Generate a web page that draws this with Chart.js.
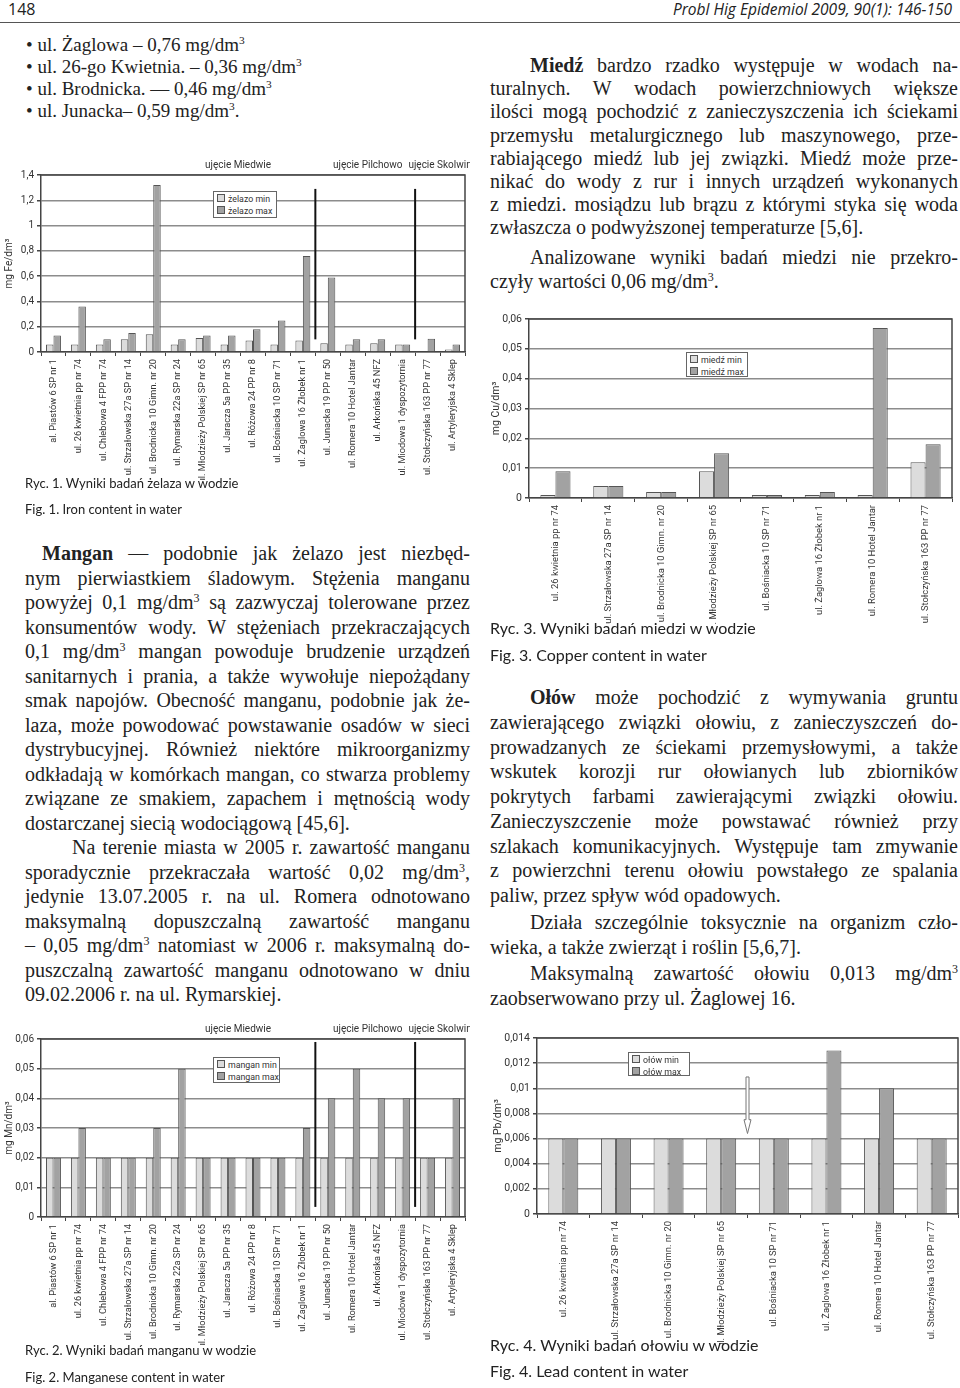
<!DOCTYPE html>
<html>
<head>
<meta charset="utf-8">
<script src="https://cdn.jsdelivr.net/npm/chart.js"></script>
<style>
body { margin: 0; width: 960px; height: 1388px; position: relative; background: #fff; overflow: hidden; color: #222; }
.abs { position: absolute; }
.txt { position: absolute; font-family: 'Liberation Serif', serif; font-size: 20px; }
.txt div { text-align: justify; text-align-last: justify; }
.txt div.l { text-align: left; text-align-last: left; }
sup { font-size: 60%; line-height: 0; vertical-align: 0.6em; }
.cap { position: absolute; font-family: Lato, 'Open Sans', sans-serif; color: #222; white-space: nowrap; }
.legenda { position: absolute; background: #fff; border: 1px solid #666; font-family: Roboto, sans-serif; font-size: 8.8px; line-height: 12px; padding: 1px 3px; color: #333; box-sizing: border-box; white-space: nowrap; }
.legenda span.sw { display: inline-block; width: 6px; height: 6px; border: 1px solid #555; margin-right: 3px; vertical-align: 0px; }
canvas { position: absolute; }
</style>
</head>
<body>

<div class="abs" style="left:8px;top:-2px;font-family:'Open Sans',sans-serif;font-size:16px;">148</div>
<div class="abs" style="right:8px;top:-2px;font-family:'Open Sans',sans-serif;font-size:15.5px;font-style:italic;">Probl Hig Epidemiol 2009, 90(1): 146-150</div>
<div class="abs" style="left:0;top:22px;width:960px;height:1px;background:#555;"></div>

<div class="txt" style="left:26px;top:34px;line-height:22px;font-size:19px;">
<div class="l">• ul. Żaglowa – 0,76 mg/dm<sup>3</sup></div>
<div class="l">• ul. 26-go Kwietnia. – 0,36 mg/dm<sup>3</sup></div>
<div class="l">• ul. Brodnicka. — 0,46 mg/dm<sup>3</sup></div>
<div class="l">• ul. Junacka– 0,59 mg/dm<sup>3</sup>.</div>
</div>

<div class="txt" style="left:25px;top:541px;width:445px;line-height:24.5px;">
<div style="padding-left:17px"><b>Mangan</b> — podobnie jak żelazo jest niezbęd-</div>
<div>nym pierwiastkiem śladowym. Stężenia manganu</div>
<div>powyżej 0,1 mg/dm<sup>3</sup> są zazwyczaj tolerowane przez</div>
<div>konsumentów wody. W stężeniach przekraczających</div>
<div>0,1 mg/dm<sup>3</sup> mangan powoduje brudzenie urządzeń</div>
<div>sanitarnych i prania, a także wywołuje niepożądany</div>
<div>smak napojów. Obecność manganu, podobnie jak że-</div>
<div>laza, może powodować powstawanie osadów w sieci</div>
<div>dystrybucyjnej. Również niektóre mikroorganizmy</div>
<div>odkładają w komórkach mangan, co stwarza problemy</div>
<div>związane ze smakiem, zapachem i mętnością wody</div>
<div class="l">dostarczanej siecią wodociągową [45,6].</div>
<div style="padding-left:47px">Na terenie miasta w 2005 r. zawartość manganu</div>
<div>sporadycznie przekraczała wartość 0,02 mg/dm<sup>3</sup>,</div>
<div>jedynie 13.07.2005 r. na ul. Romera odnotowano</div>
<div>maksymalną dopuszczalną zawartość manganu</div>
<div>– 0,05 mg/dm<sup>3</sup> natomiast w 2006 r. maksymalną do-</div>
<div>puszczalną zawartość manganu odnotowano w dniu</div>
<div class="l">09.02.2006 r. na ul. Rymarskiej.</div>
</div>

<div class="txt" style="left:490px;top:54px;width:468px;line-height:23.2px;">
<div style="padding-left:40px"><b>Miedź</b> bardzo rzadko występuje w wodach na-</div>
<div>turalnych. W wodach powierzchniowych większe</div>
<div>ilości mogą pochodzić z zanieczyszczenia ich ściekami</div>
<div>przemysłu metalurgicznego lub maszynowego, prze-</div>
<div>rabiającego miedź lub jej związki. Miedź może prze-</div>
<div>nikać do wody z rur i innych urządzeń wykonanych</div>
<div>z miedzi. mosiądzu lub brązu z którymi styka się woda</div>
<div class="l">zwłaszcza o podwyższonej temperaturze [5,6].</div>
</div>
<div class="txt" style="left:490px;top:245px;width:468px;line-height:24px;">
<div style="padding-left:40px">Analizowane wyniki badań miedzi nie przekro-</div>
<div class="l">czyły wartości 0,06 mg/dm<sup>3</sup>.</div>
</div>

<div class="txt" style="left:490px;top:685px;width:468px;line-height:24.75px;">
<div style="padding-left:40px"><b>Ołów</b> może pochodzić z wymywania gruntu</div>
<div>zawierającego związki ołowiu, z zanieczyszczeń do-</div>
<div>prowadzanych ze ściekami przemysłowymi, a także</div>
<div>wskutek korozji rur ołowianych lub zbiorników</div>
<div>pokrytych farbami zawierającymi związki ołowiu.</div>
<div>Zanieczyszczenie może powstawać również przy</div>
<div>szlakach komunikacyjnych. Występuje tam zmywanie</div>
<div>z powierzchni terenu ołowiu powstałego ze spalania</div>
<div class="l">paliw, przez spływ wód opadowych.</div>
</div>
<div class="txt" style="left:490px;top:910px;width:468px;line-height:24.75px;">
<div style="padding-left:40px">Działa szczególnie toksycznie na organizm czło-</div>
<div class="l">wieka, a także zwierząt i roślin [5,6,7].</div>
</div>
<div class="txt" style="left:490px;top:961px;width:468px;line-height:24.75px;">
<div style="padding-left:40px">Maksymalną zawartość ołowiu 0,013 mg/dm<sup>3</sup></div>
<div class="l">zaobserwowano przy ul. Żaglowej 16.</div>
</div>

<canvas id="wykresFe" width="470" height="330" style="left:0;top:150px"></canvas>
<canvas id="wykresMn" width="470" height="330" style="left:0;top:1015px"></canvas>
<canvas id="wykresCu" width="480" height="320" style="left:480px;top:305px"></canvas>
<canvas id="wykresPb" width="480" height="320" style="left:480px;top:1025px"></canvas>

<div class="legenda" id="legFe" style="left:213px;top:191px;width:64px;height:27px;"></div>
<div class="legenda" id="legMn" style="left:213px;top:1057px;width:67px;height:26px;"></div>
<div class="legenda" id="legCu" style="left:686px;top:352px;width:62px;height:25px;"></div>
<div class="legenda" id="legPb" style="left:628px;top:1052px;width:62px;height:24px;"></div>

<div class="cap" style="left:25px;top:475px;font-size:13px;">Ryc. 1. Wyniki badań żelaza w wodzie</div>
<div class="cap" style="left:25px;top:501px;font-size:13px;">Fig. 1. Iron content in water</div>
<div class="cap" style="left:25px;top:1342px;font-size:13px;">Ryc. 2. Wyniki badań manganu w wodzie</div>
<div class="cap" style="left:25px;top:1369px;font-size:13px;">Fig. 2. Manganese content in water</div>
<div class="cap" style="left:490px;top:618px;font-size:16px;">Ryc. 3. Wyniki badań miedzi w wodzie</div>
<div class="cap" style="left:490px;top:645px;font-size:16px;">Fig. 3. Copper content in water</div>
<div class="cap" style="left:490px;top:1335px;font-size:16px;">Ryc. 4. Wyniki badań ołowiu w wodzie</div>
<div class="cap" style="left:490px;top:1361px;font-size:16px;">Fig. 4. Lead content in water</div>

<script>
/* punkty poboru */
var ulice17 = ["al. Piastów 6 SP nr 1", "ul. 26 kwietnia pp nr 74", "ul. Chlebowa 4 FPP nr 74", "ul. Strzałowska 27a SP nr 14",
    "ul. Brodnicka 10 Gimn. nr 20", "ul. Rymarska 22a SP nr 24", "ul. Młodzieży Polskiej SP nr 65", "ul. Jaracza 5a PP nr 35",
    "ul. Różowa 24 PP nr 8", "ul. Bośniacka 10 SP nr 71", "ul. Żaglowa 16 Żłobek nr 1", "ul. Junacka 19 PP nr 50",
    "ul. Romera 10 Hotel Jantar", "ul. Arkońska 45 NFZ", "ul. Miodowa 1 dyspozytornia", "ul. Stołczyńska 163 PP nr 77",
    "ul. Artyleryjska 4 Sklep"];
var ulice8 = ["ul. 26 kwietnia pp nr 74", "ul. Strzałowska 27a SP nr 14", "ul. Brodnicka 10 Gimn. nr 20",
    "ul. Młodzieży Polskiej SP nr 65", "ul. Bośniacka 10 SP nr 71", "ul. Żaglowa 16 Żłobek nr 1",
    "ul. Romera 10 Hotel Jantar", "ul. Stołczyńska 163 PP nr 77"];

/* wartości */
var zelazoMin = [0.06, 0.06, 0.06, 0.10, 0.14, 0.06, 0.11, 0.06, 0.09, 0.06, 0.09, 0.07, 0.06, 0.07, 0.06, 0.005, 0.02];
var zelazoMax = [0.13, 0.36, 0.10, 0.15, 1.32, 0.10, 0.13, 0.13, 0.18, 0.25, 0.76, 0.59, 0.10, 0.10, 0.06, 0.105, 0.06];
var manganMin = [0.02, 0.02, 0.02, 0.02, 0.02, 0.02, 0.02, 0.02, 0.02, 0.02, 0.02, 0.02, 0.02, 0.02, 0.02, 0.02, 0.02];
var manganMax = [0.02, 0.03, 0.02, 0.02, 0.03, 0.05, 0.02, 0.02, 0.02, 0.02, 0.03, 0.04, 0.05, 0.04, 0.04, 0.02, 0.04];
var miedzMin = [0.001, 0.004, 0.002, 0.009, 0.001, 0.001, 0.001, 0.012];
var miedzMax = [0.009, 0.004, 0.002, 0.015, 0.001, 0.002, 0.057, 0.018];
var olowMin = [0.006, 0.006, 0.006, 0.006, 0.006, 0.006, 0.006, 0.006];
var olowMax = [0.006, 0.006, 0.006, 0.006, 0.006, 0.013, 0.010, 0.006];

/* nazwy serii */
var nazwyFe = ["żelazo min", "żelazo max"];
var nazwyMn = ["mangan min", "mangan max"];
var nazwyCu = ["miedź min", "miedź max"];
var nazwyPb = ["ołów min", "ołów max"];

/* ujęcia wody */
var ujecia = ["ujęcie Miedwie", "ujęcie Pilchowo", "ujęcie Skolwin"];

var FONT = "Roboto, 'Open Sans', sans-serif";
var kolorMin = "#dcdcdc";
var kolorMax = "#a2a2a2";

function przecinek(v) {
    return String(parseFloat(Number(v).toFixed(4))).replace(".", ",");
}

/* ramka, linie podziału, nagłówki ujęć, strzałka */
var ramka = {
    id: "ramka",
    afterDatasetsDraw: function(chart, args, opts) {
        var ctx = chart.ctx;
        var a = chart.chartArea;
        var x = chart.scales.x, y = chart.scales.y;
        ctx.save();
        ctx.strokeStyle = "#444";
        ctx.lineWidth = 1.5;
        ctx.beginPath();
        ctx.moveTo(a.left, a.top);
        ctx.lineTo(a.right, a.top);
        ctx.lineTo(a.right, a.bottom);
        ctx.stroke();

        if (opts.podzial) {
            ctx.strokeStyle = "#111";
            ctx.lineWidth = 2;
            opts.podzial.forEach(function(p) {
                var px = x.getPixelForValue(p);
                ctx.beginPath();
                ctx.moveTo(px, y.getPixelForValue(opts.podzialOd));
                ctx.lineTo(px, y.getPixelForValue(opts.podzialDo));
                ctx.stroke();
            });
        }
        if (opts.naglowki) {
            ctx.fillStyle = "#333";
            ctx.font = "10px " + FONT;
            ctx.textAlign = "center";
            ctx.textBaseline = "middle";
            opts.naglowki.forEach(function(n, i) {
                ctx.fillText(ujecia[i], x.getPixelForValue(n), a.top - 10);
            });
        }
        if (opts.strzalka) {
            var s = opts.strzalka;
            var sx = x.getPixelForValue(s.x);
            var y1 = y.getPixelForValue(s.od), y2 = y.getPixelForValue(s.grot), y3 = y.getPixelForValue(s.do);
            ctx.fillStyle = "#fff";
            ctx.strokeStyle = "#777";
            ctx.lineWidth = 1;
            ctx.beginPath();
            ctx.moveTo(sx - 1.5, y1);
            ctx.lineTo(sx + 1.5, y1);
            ctx.lineTo(sx + 1.5, y2);
            ctx.lineTo(sx + 3.5, y2);
            ctx.lineTo(sx, y3);
            ctx.lineTo(sx - 3.5, y2);
            ctx.lineTo(sx - 1.5, y2);
            ctx.closePath();
            ctx.fill();
            ctx.stroke();
        }
        ctx.restore();
    }
};

function wykres(id, etykiety, dMin, dMax, nazwy, c) {
    var ctx = document.getElementById(id).getContext("2d");
    return new Chart(ctx, {
        type: "bar",
        data: {
            labels: etykiety,
            datasets: [{
                label: nazwy[0],
                data: dMin,
                backgroundColor: kolorMin,
                borderColor: "#555",
                borderWidth: 1
            }, {
                label: nazwy[1],
                data: dMax,
                backgroundColor: kolorMax,
                borderColor: "#555",
                borderWidth: 1
            }]
        },
        options: {
            responsive: false,
            animation: false,
            categoryPercentage: c.kat,
            barPercentage: 1,
            layout: { padding: { top: c.gora, right: c.prawo, left: 0, bottom: 0 } },
            plugins: { legend: { display: false }, tooltip: { enabled: false }, ramka: c.ramka },
            scales: {
                x: {
                    grid: { display: true, drawOnChartArea: false, drawTicks: true, tickLength: 4, color: "#444", offset: true },
                    border: { display: true, color: "#444", width: 1.5 },
                    ticks: { autoSkip: false, maxRotation: 90, minRotation: 90, padding: 3, color: "#333",
                        font: { family: FONT, size: c.etykieta } },
                    afterFit: function(s) { s.height = c.wysX; }
                },
                y: {
                    min: 0,
                    max: c.max,
                    ticks: { stepSize: c.krok, padding: 3, color: "#333", font: { family: FONT, size: c.rozmiar },
                        callback: przecinek },
                    grid: { color: "#8c8c8c", lineWidth: 1.5, tickLength: 4, tickColor: "#444" },
                    border: { display: true, color: "#444", width: 1.5 },
                    title: { display: true, text: c.tytul, color: "#333", padding: { top: c.odstepTytulu, bottom: 0 },
                        font: { family: FONT, size: c.rozmiar } },
                    afterFit: function(s) { s.width = c.szerY; }
                }
            }
        },
        plugins: [ramka]
    });
}

function legenda(id, nazwy) {
    var el = document.getElementById(id);
    el.innerHTML = '<div><span class="sw" style="background:' + kolorMin + '"></span>' + nazwy[0] + '</div>' +
        '<div><span class="sw" style="background:' + kolorMax + '"></span>' + nazwy[1] + '</div>';
}

window.onload = function() {
    wykres("wykresFe", ulice17, zelazoMin, zelazoMax, nazwyFe, {
        kat: 0.6, gora: 25, prawo: 5, wysX: 128, szerY: 41, max: 1.4, krok: 0.2, rozmiar: 10, etykieta: 9.2,
        tytul: "mg Fe/dm³", odstepTytulu: 3,
        ramka: { podzial: [10.5, 14.5], podzialOd: 1.29, podzialDo: 0.1, naglowki: [7.4, 12.6, 15.5] }
    });
    wykres("wykresMn", ulice17, manganMin, manganMax, nazwyMn, {
        kat: 0.6, gora: 24, prawo: 5, wysX: 128, szerY: 41, max: 0.06, krok: 0.01, rozmiar: 10, etykieta: 9.2,
        tytul: "mg Mn/dm³", odstepTytulu: 3,
        ramka: { podzial: [10.5, 14.5], podzialOd: 0.059, podzialDo: 0.0034, naglowki: [7.4, 12.6, 15.5] }
    });
    wykres("wykresCu", ulice8, miedzMin, miedzMax, nazwyCu, {
        kat: 0.57, gora: 14, prawo: 8, wysX: 127, szerY: 49, max: 0.06, krok: 0.01, rozmiar: 10.5, etykieta: 9.4,
        tytul: "mg Cu/dm³", odstepTytulu: 10,
        ramka: {}
    });
    wykres("wykresPb", ulice8, olowMin, olowMax, nazwyPb, {
        kat: 0.57, gora: 13, prawo: 2, wysX: 131, szerY: 57, max: 0.014, krok: 0.002, rozmiar: 10.5, etykieta: 9.4,
        tytul: "mg Pb/dm³", odstepTytulu: 12,
        ramka: { strzalka: { x: 3.5, od: 0.0109, grot: 0.0075, do: 0.0064 } }
    });
    legenda("legFe", nazwyFe);
    legenda("legMn", nazwyMn);
    legenda("legCu", nazwyCu);
    legenda("legPb", nazwyPb);
};
</script>
</body>
</html>
